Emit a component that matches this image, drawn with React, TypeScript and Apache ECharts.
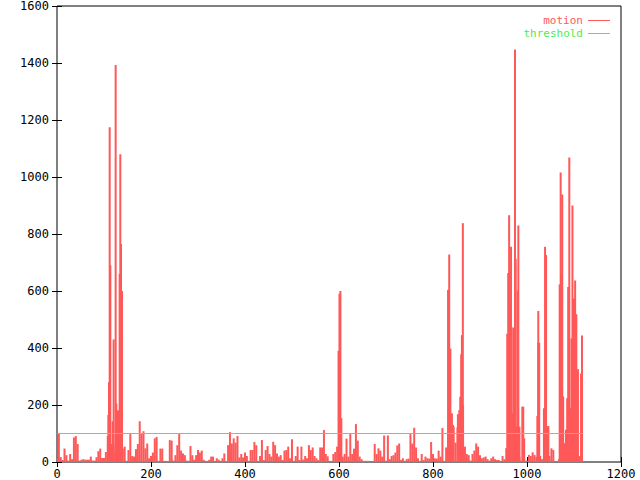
import React, { useEffect, useRef } from "react";
import * as echarts from "echarts";

// motion samples every xStep frames (low-level background activity)
const xStep = 4;
const motionBase = [
  17, 100, 17, 7, 47, 24, 5, 28, 10, 86,
  91, 63, 5, 8, 10, 8, 8, 8, 19, 5,
  5, 17, 38, 47, 14, 14, 35, 91, 60, 63,
  60, 40, 180, 181, 200, 47, 54, 4, 42, 98,
  21, 19, 45, 63, 143, 100, 108, 48, 65, 13,
  21, 33, 83, 88, 4, 47, 47, 4, 4, 3,
  77, 75, 5, 24, 59, 98, 40, 30, 24, 5,
  4, 56, 24, 8, 24, 42, 33, 40, 8, 4,
  4, 8, 19, 19, 4, 13, 8, 4, 13, 30,
  3, 59, 105, 65, 83, 68, 91, 16, 28, 16,
  33, 21, 4, 42, 42, 70, 59, 4, 21, 77,
  7, 42, 56, 28, 19, 71, 59, 30, 19, 24,
  7, 40, 42, 54, 13, 80, 4, 21, 54, 7,
  54, 9, 21, 13, 59, 42, 51, 21, 13, 7,
  51, 51, 112, 28, 20, 4, 2, 28, 35, 54,
  60, 80, 19, 28, 82, 19, 98, 28, 47, 133,
  75, 19, 10, 4, 4, 4, 4, 2, 2, 63,
  28, 48, 40, 19, 93, 4, 93, 10, 21, 24,
  33, 58, 65, 7, 13, 4, 10, 12, 98, 65,
  120, 51, 13, 4, 28, 7, 19, 13, 12, 70,
  28, 13, 12, 40, 19, 119, 4, 51, 100, 150,
  170, 124, 68, 121, 182, 170, 200, 54, 28, 24,
  5, 28, 40, 65, 54, 24, 13, 16, 19, 10,
  5, 13, 19, 10, 7, 7, 2, 21, 10, 48,
  171, 300, 171, 124, 124, 124, 18, 4, 194, 5,
  4, 25, 21, 34, 25, 18, 418, 21, 10, 188,
  726, 126, 21, 48, 42, 4, 2, 10, 229, 229,
  66, 113, 224, 188, 433, 573, 518, 325, 21, 310,
];

// individual high-motion frames [frame, value]
const motionPeaks: [number, number][] = [
  [109.2, 165], [110.6, 280], [112.1, 1175], [113.5, 690], [118.4, 143], [120.5, 430],
  [124.8, 1393], [126.2, 205], [128.3, 177], [131.2, 181], [133.3, 660], [134.7, 1080],
  [136.2, 765], [138.3, 600],
  [599, 390], [601, 590], [603, 600], [605, 154],
  [832, 604], [834.5, 728], [837, 398], [839.7, 170], [842.5, 130], [853, 168],
  [856, 122], [858, 229], [860, 378], [861.5, 445], [863.5, 838],
  [957, 48], [958, 450], [960, 663], [962, 866], [964, 558], [966, 755], [967, 474],
  [969, 171], [971, 471], [973, 471], [974.5, 1447], [976, 713], [978, 124], [980, 602],
  [981.6, 830], [984, 124], [990, 194], [994, 83],
  [1022, 161], [1024, 530], [1026, 418], [1037, 188], [1038.4, 755], [1040.6, 726], [1045.5, 126],
  [1069.5, 623], [1071.6, 1016], [1073.7, 660], [1075, 939], [1077, 229], [1083, 113],
  [1085.5, 224], [1087.6, 614], [1090, 1068], [1092.5, 188], [1094.6, 433], [1096.7, 900],
  [1099.6, 573], [1102.4, 637], [1105, 518], [1108, 325], [1113, 21], [1115, 310], [1117, 444],
];

const thresholdValue = 100;
const xRange = [0, 1200];
const yRange = [0, 1600];
const xInterval = 200;
const yInterval = 200;

const RED = "#ff5858";
const GREEN = "#4fea4f";
const FONT = "DejaVu Sans Mono";

export default function App() {
  const ref = useRef<HTMLDivElement>(null);
  useEffect(() => {
    const chart = echarts.init(ref.current!, null, { renderer: "svg" });
    const motionData = motionBase
      .map((v, i) => [i * xStep, v])
      .concat(motionPeaks.map((p) => [p[0], p[1]]));
    const lastX = Math.max(...motionData.map((d) => d[0])) + 1;
    const thresholdData = [
      [0, thresholdValue],
      [lastX, thresholdValue],
    ];
    const plain = (v: number) => String(v);
    const tick = { show: true, inside: true, length: 5, lineStyle: { color: "#000", width: 1 } };
    chart.setOption({
      animation: false,
      backgroundColor: "#fff",
      grid: {
        left: 57,
        right: 19,
        top: 5,
        bottom: 18,
        show: true,
        borderColor: "#000",
        borderWidth: 1,
        backgroundColor: "transparent",
      },
      legend: {
        orient: "vertical",
        right: 30,
        top: 15,
        align: "right",
        padding: 0,
        itemWidth: 22,
        itemHeight: 1,
        itemGap: 2,
        icon: "rect",
        selectedMode: false,
        textStyle: { fontFamily: FONT, fontSize: 11, lineHeight: 11 },
        data: [
          { name: "motion", textStyle: { color: RED } },
          { name: "threshold", textStyle: { color: GREEN } },
        ],
      },
      xAxis: [
        {
          type: "value",
          min: xRange[0],
          max: xRange[1],
          interval: xInterval,
          axisLine: { show: false },
          axisTick: tick,
          splitLine: { show: false },
          axisLabel: { color: "#000", fontFamily: FONT, fontSize: 12, margin: 6, formatter: plain },
        },
        {
          type: "value",
          position: "top",
          min: xRange[0],
          max: xRange[1],
          interval: xInterval,
          axisLine: { show: false },
          axisTick: tick,
          splitLine: { show: false },
          axisLabel: { show: false },
        },
      ],
      yAxis: [
        {
          type: "value",
          min: yRange[0],
          max: yRange[1],
          interval: yInterval,
          axisLine: { show: false },
          axisTick: tick,
          splitLine: { show: false },
          axisLabel: { color: "#000", fontFamily: FONT, fontSize: 12, margin: 8, formatter: plain },
        },
        {
          type: "value",
          position: "right",
          min: yRange[0],
          max: yRange[1],
          interval: yInterval,
          axisLine: { show: false },
          axisTick: tick,
          splitLine: { show: false },
          axisLabel: { show: false },
        },
      ],
      series: [
        {
          name: "motion",
          type: "bar",
          xAxisIndex: 0,
          yAxisIndex: 0,
          data: motionData,
          barWidth: 2,
          itemStyle: { color: RED },
          clip: true,
        },
        {
          name: "threshold",
          type: "line",
          xAxisIndex: 0,
          yAxisIndex: 0,
          data: thresholdData,
          symbol: "none",
          lineStyle: { color: GREEN, width: 1 },
          itemStyle: { color: GREEN },
        },
      ],
    });
    return () => chart.dispose();
  }, []);
  return (
    <div
      ref={ref}
      style={{ position: "absolute", left: 0, top: 0, width: 640, height: 480, background: "#fff" }}
    />
  );
}
